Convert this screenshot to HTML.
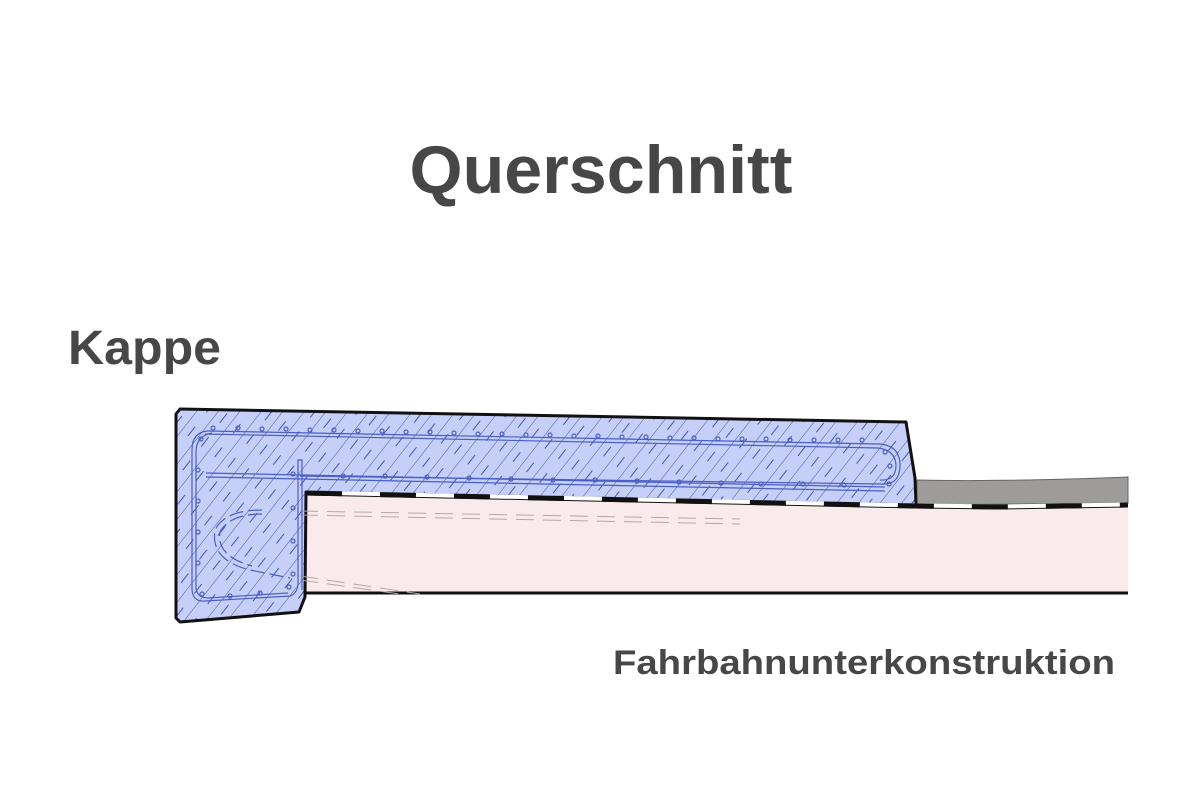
<!DOCTYPE html>
<html><head><meta charset="utf-8"><style>
html,body{margin:0;padding:0;background:#fff}
svg{display:block}
text{font-family:"Liberation Sans",sans-serif;font-weight:bold;fill:#474747}
</style></head><body>
<svg width="1198" height="800" viewBox="0 0 1198 800" xmlns="http://www.w3.org/2000/svg">
<defs>
<pattern id="h" patternUnits="userSpaceOnUse" width="17" height="30" patternTransform="rotate(38)">
<rect width="17" height="30" fill="#c6cff7"/>
<line x1="0" y1="0" x2="0" y2="30" stroke="#3f55c0" stroke-width="1"/>
<line x1="8.5" y1="6" x2="8.5" y2="18" stroke="#3f55c0" stroke-width="1"/>
</pattern>
</defs>
<rect width="1198" height="800" fill="#fff"/>
<text x="601" y="193" font-size="68" text-anchor="middle" textLength="383" lengthAdjust="spacingAndGlyphs">Querschnitt</text>
<text x="68" y="364" font-size="48" textLength="153" lengthAdjust="spacingAndGlyphs">Kappe</text>
<text x="613" y="674" font-size="34" textLength="502" lengthAdjust="spacingAndGlyphs">Fahrbahnunterkonstruktion</text>

<polygon points="306,492 916,505 1128,504 1128,593 306,593" fill="#f9ebeb"/>
<line x1="306" y1="593" x2="1128" y2="593" stroke="#111" stroke-width="3"/>
<path d="M917,480 Q1000,482 1128,477 L1128,503 L917,505 Z" fill="#9e9c9b" stroke="#666" stroke-width="1"/>
<path d="M180,409 L906,422 L915,478 L916,505 L306,492 L305,597 L299,612 L180,622 L176,618 L176,414 Z" fill="url(#h)" stroke="#111" stroke-width="3" stroke-linejoin="round"/>
<polyline points="306,493 916,506 1000,507 1128,505" fill="none" stroke="#fff" stroke-width="5"/>
<polyline points="306,493 916,506 1000,507 1128,505" fill="none" stroke="#111" stroke-width="5" stroke-dasharray="36,38"/>
<polyline points="306,495 916,508 1000,509 1128,507" fill="none" stroke="#111" stroke-width="1"/>
<g stroke="#b8a6a6" stroke-width="1" stroke-dasharray="18,9" fill="none">
<line x1="300" y1="511" x2="740" y2="519"/>
<line x1="300" y1="515" x2="740" y2="524"/>
<line x1="300" y1="576" x2="420" y2="594"/>
<line x1="300" y1="580" x2="400" y2="594"/>
</g>
<g stroke="#4a5fc4" stroke-width="1.2" fill="none">
<path d="M208,431 L880,444 Q900,446 900,465 Q900,485 882,484 L300,476"/>
<path d="M205,434 L878,448 Q895,450 896,465 Q896,481 880,480"/>
<path d="M208,431 Q192,432 192,450 L192,590 Q193,602 205,601 L290,596 Q297,594 298,584 L298,460 L302,460 L302,590"/>
<path d="M212,433 Q196,436 196,452 L196,588 Q197,598 208,598 L288,593"/>
<path d="M206,473 L885,487" />
<path d="M206,477 L885,491" />
<path d="M262,510 Q225,510 215,530 Q210,560 250,570 L290,578" stroke-dasharray="14,5"/>
<path d="M262,514 Q230,514 220,532 Q216,556 252,566" stroke-dasharray="14,5"/>
</g>
<g fill="none" stroke="#4a5fc4" stroke-width="1.2">
<circle cx="213" cy="428" r="2"/><circle cx="238" cy="428" r="2"/><circle cx="262" cy="429" r="2"/><circle cx="286" cy="429" r="2"/><circle cx="310" cy="430" r="2"/><circle cx="334" cy="430" r="2"/><circle cx="358" cy="431" r="2"/><circle cx="382" cy="431" r="2"/><circle cx="406" cy="432" r="2"/><circle cx="430" cy="432" r="2"/><circle cx="454" cy="433" r="2"/><circle cx="478" cy="434" r="2"/><circle cx="502" cy="434" r="2"/><circle cx="526" cy="435" r="2"/><circle cx="550" cy="435" r="2"/><circle cx="574" cy="436" r="2"/><circle cx="598" cy="436" r="2"/><circle cx="622" cy="437" r="2"/><circle cx="646" cy="437" r="2"/><circle cx="670" cy="438" r="2"/><circle cx="694" cy="438" r="2"/><circle cx="718" cy="439" r="2"/><circle cx="742" cy="439" r="2"/><circle cx="766" cy="439" r="2"/><circle cx="790" cy="440" r="2"/><circle cx="814" cy="440" r="2"/><circle cx="838" cy="440" r="2"/><circle cx="862" cy="440" r="2"/>
<circle cx="885" cy="452" r="2"/><circle cx="890" cy="466" r="2"/><circle cx="889" cy="484" r="2"/>
<circle cx="201" cy="439" r="2"/><circle cx="198" cy="470" r="2"/><circle cx="198" cy="501" r="2"/><circle cx="198" cy="532" r="2"/><circle cx="198" cy="563" r="2"/><circle cx="202" cy="594" r="2"/><circle cx="230" cy="596" r="2"/><circle cx="260" cy="593" r="2"/><circle cx="289" cy="587" r="2"/><circle cx="293" cy="574" r="2"/><circle cx="293" cy="541" r="2"/><circle cx="293" cy="508" r="2"/><circle cx="293" cy="474" r="2"/>
<circle cx="343" cy="476" r="2"/><circle cx="385" cy="476" r="2"/><circle cx="427" cy="477" r="2"/><circle cx="469" cy="478" r="2"/><circle cx="511" cy="479" r="2"/><circle cx="553" cy="480" r="2"/><circle cx="595" cy="480" r="2"/><circle cx="637" cy="481" r="2"/><circle cx="679" cy="482" r="2"/><circle cx="721" cy="483" r="2"/><circle cx="761" cy="484" r="2"/><circle cx="803" cy="484" r="2"/><circle cx="844" cy="485" r="2"/>
</g>
</svg>
</body></html>
